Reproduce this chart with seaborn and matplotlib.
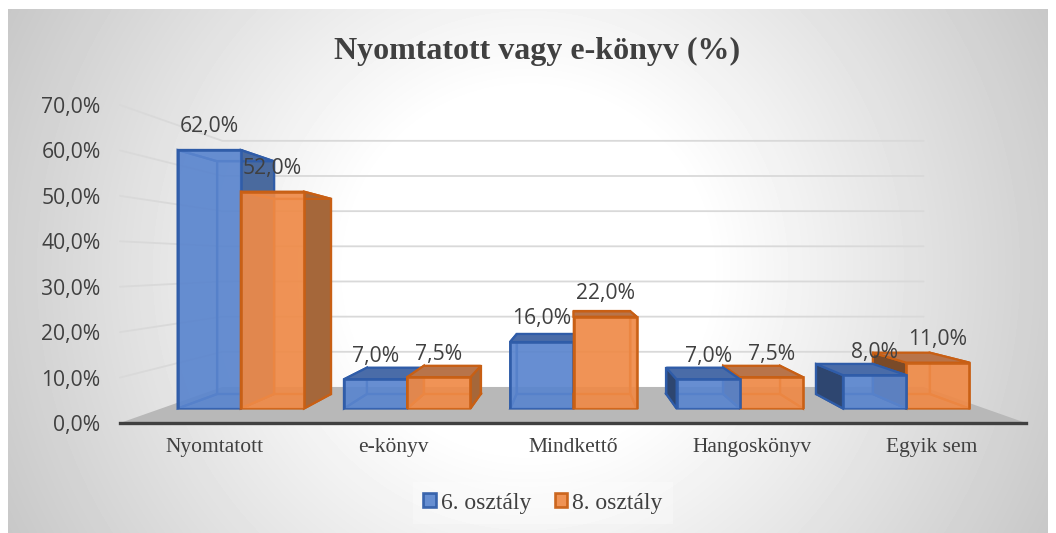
import numpy as np
import pandas as pd
import matplotlib
matplotlib.use("Agg")
import matplotlib.pyplot as plt
from matplotlib.patches import Polygon
import seaborn as sns

categories = ["Nyomtatott", "e-könyv", "Mindkettő", "Hangoskönyv", "Egyik sem"]
series_names = ["6. osztály", "8. osztály"]
grade6 = [62.0, 7.0, 16.0, 7.0, 8.0]
grade8 = [52.0, 7.5, 22.0, 7.5, 11.0]
y_ticks = [0, 10, 20, 30, 40, 50, 60, 70]

W, H = 1056, 533
SERIF = "Liberation Serif"
SANS = "Open Sans"
TXT = "#404040"

sns.set_theme(style="white")
fig = plt.figure(figsize=(W / 100, H / 100), dpi=100, facecolor="white")

def axes_px(x0, y_top, x1, y_bot, **kw):
    return fig.add_axes([x0 / W, 1 - y_bot / H, (x1 - x0) / W, (y_bot - y_top) / H], **kw)

# chart-area background
bg = axes_px(8, 9, 1048, 533)
yy, xx = np.mgrid[9:533, 8:1048]
d = np.hypot(xx - 528, yy - 270)
shade = (255 - 55 * np.clip((d - 180) / 400, 0, 1)) / 255
bg.imshow(shade, cmap="gray", vmin=0, vmax=1, aspect="auto")
bg.axis("off")

# axis plane: scale labels, wall, floor
ax = axes_px(120, 105, 1026, 423)
ax.patch.set_alpha(0)
ax.set_xlim(-0.5, 4.5)
ax.set_ylim(0, 70)
ax.set_xticks([2 + (i - 2) * 0.99 for i in range(len(categories))], categories,
              family=SERIF, fontsize=15.5, color=TXT)
ax.set_yticks(y_ticks, [f"{v:.1f}%".replace(".", ",") for v in y_ticks],
              family=SANS, fontsize=15.2, color=TXT)
ax.tick_params(axis="x", length=0, pad=11)
ax.tick_params(axis="y", length=0, pad=14)
for s in ["top", "left", "right"]:
    ax.spines[s].set_visible(False)
ax.spines["bottom"].set_color("#404040")
ax.spines["bottom"].set_linewidth(2.4)
ax.spines["bottom"].set_zorder(1)

WALL = 0.774
VX, VY = 2.0, 35.1
def wall(x, v):
    return VX + (x - VX) * WALL, VY + (v - VY) * WALL

ax.add_patch(Polygon([(-0.5, 0), (4.5, 0), wall(4.5, 0), wall(-0.5, 0)],
                     closed=True, fc="#b8b8b8", ec="none", zorder=1, clip_on=False))
for v in y_ticks[1:]:
    bx, by = wall(-0.5, v)
    ex, _ = wall(4.5, v)
    ax.plot([-0.5, bx, ex], [v, by, by], color="#d9d9d9", lw=1.3, zorder=1, clip_on=False)

# bar plane: the front faces of the bars
S = 0.918
fx0, fx1 = 573.5 - 453 * S, 573.5 + 453 * S
axb = axes_px(fx0, 408.5 - 4.17 * 70, fx1, 408.5)
axb.patch.set_alpha(0)
df = pd.DataFrame({
    "kat": categories * 2,
    "osztaly": [series_names[0]] * 5 + [series_names[1]] * 5,
    "ertek": grade6 + grade8,
})
FRONT = ["#5A85CE", "#EF8A47"]
EDGE = ["#2F5CA8", "#C85F14"]
sns.barplot(data=df, x="kat", y="ertek", hue="osztaly", hue_order=series_names,
            order=categories, palette=FRONT, width=0.76, gap=0, saturation=1,
            legend=False, ax=axb)
axb.set_xlim(-0.5, 4.5)
axb.set_ylim(0, 70)
axb.axis("off")

BACK = 0.9
BX, BY = 2.0, 34.8
def back(x, v):
    return BX + (x - BX) * BACK, BY + (v - BY) * BACK

SIDE_R = ["#4A6A9E", "#A5673A"]
SIDE_L = ["#2E4670", "#7A4A28"]
TOP = ["#4A6CA8", "#B8744A"]

for j, cont in enumerate(axb.containers):
    for i, patch in enumerate(cont):
        x0, x1 = patch.get_x(), patch.get_x() + patch.get_width()
        v = patch.get_height()
        rank = (j if i <= 2 else 1 - j)
        z = 3 + rank * 3
        ec = EDGE[j]
        patch.set_edgecolor(ec)
        patch.set_linewidth(1.9)
        patch.set_alpha(0.92)
        patch.set_zorder(z + 2)
        kw = dict(closed=True, ec=ec, lw=1.6, clip_on=False, zorder=z)
        axb.add_patch(Polygon([back(x0, 0), back(x1, 0), back(x1, v), back(x0, v)],
                              fc="none", **kw))
        axb.add_patch(Polygon([(x0, 0), (x1, 0), back(x1, 0), back(x0, 0)], fc="none", **kw))
        right_open = x1 < BX - 0.01
        left_open = x0 > BX + 0.01
        top_open = v < BY
        axb.add_patch(Polygon([(x1, 0), (x1, v), back(x1, v), back(x1, 0)],
                              fc=SIDE_R[j] if right_open else "none", **kw))
        axb.add_patch(Polygon([(x0, 0), (x0, v), back(x0, v), back(x0, 0)],
                              fc=SIDE_L[j] if left_open else "none", **kw))
        axb.add_patch(Polygon([(x0, v), (x1, v), back(x1, v), back(x0, v)],
                              fc=TOP[j] if top_open else "none",
                              **{**kw, "zorder": z + 1}))
    labels = [f"{p.get_height():.1f}%".replace(".", ",") for p in cont]
    for t in axb.bar_label(cont, labels=labels, padding=9, family=SANS,
                           fontsize=15.2, color=TXT):
        t.set_zorder(30)
        t.set_clip_on(False)

axb.set_zorder(3)
ax.set_zorder(2)

# title and legend
fig.text(537 / W, 1 - 51 / H, "Nyomtatott vagy e-könyv (%)", family=SERIF, fontweight="bold",
         fontsize=23, color=TXT, ha="center", va="center")
leg = fig.legend(handles=[axb.containers[0][0], axb.containers[1][0]], labels=series_names,
                 loc="center", bbox_to_anchor=(543 / W, 1 - 503 / H), ncol=2,
                 prop={"family": SERIF, "size": 17}, frameon=True, fancybox=False,
                 facecolor="white", edgecolor="none", framealpha=0.3,
                 handlelength=0.52, handleheight=0.52, handletextpad=0.22,
                 columnspacing=1.0, borderpad=0.45, borderaxespad=0, labelcolor=TXT)

fig.savefig("out.png", dpi=100)
